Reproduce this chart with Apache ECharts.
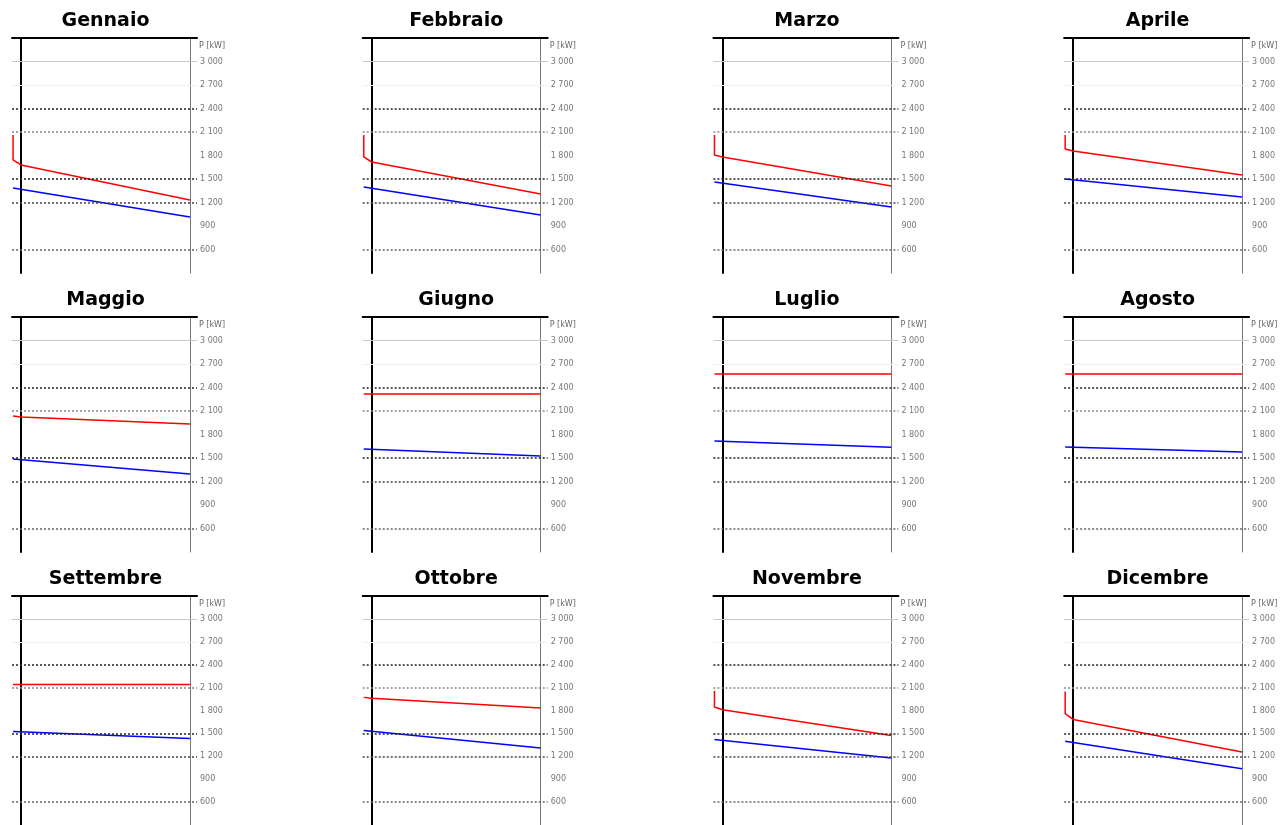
<!DOCTYPE html>
<html>
<head>
<meta charset="utf-8">
<title>Curve di durata mensili</title>
<script src="https://cdn.jsdelivr.net/npm/echarts@6/dist/echarts.min.js"></script>
<style>
html, body { margin: 0; padding: 0; background: #fff; }
#main { width: 1284px; height: 825px; }
</style>
</head>
<body>
<div id="main"></div>
<script>
// mesi (un pannello per mese)
var mesi = ['Gennaio', 'Febbraio', 'Marzo', 'Aprile', 'Maggio', 'Giugno',
            'Luglio', 'Agosto', 'Settembre', 'Ottobre', 'Novembre', 'Dicembre'];

// asse delle durate (% del tempo)
var durataRosso = [0, 0, 4.5, 100];
var durataBlu = [0, 100];

// curva rossa: [picco, fine picco, inizio, fine]
var rosso = [
    [2062, 1743, 1679, 1232],
    [2062, 1781, 1717, 1309],
    [2062, 1806, 1781, 1411],
    [2062, 1883, 1857, 1551],
    [2036, 2036, 2024, 1934],
    [2317, 2317, 2317, 2317],
    [2572, 2572, 2572, 2572],
    [2572, 2572, 2572, 2572],
    [2142, 2142, 2142, 2142],
    [1972, 1972, 1960, 1832],
    [2058, 1845, 1810, 1471],
    [2049, 1759, 1683, 1257]
];

// curva blu: [inizio, fine]
var blu = [
    [1385, 1015],
    [1398, 1040],
    [1462, 1143],
    [1500, 1270],
    [1487, 1296],
    [1615, 1526],
    [1717, 1636],
    [1640, 1577],
    [1526, 1432],
    [1538, 1309],
    [1420, 1177],
    [1398, 1037]
];

// asse valori
var yMin = 300, yMax = 3300, yPasso = 300;
var nomeAsse = 'P [kW]';

// linee di riferimento orizzontali
var soglie = [3000, 2700, 2400, 2100, 1500, 1200, 600];
var stiliSoglie = [
    { color: '#c8c8c8', width: 1, type: 'solid' },
    { color: '#f0f0f0', width: 1, type: 'solid' },
    { color: '#222', width: 1.5, type: [2, 2] },
    { color: '#888', width: 1.5, type: [2, 2] },
    { color: '#222', width: 1.5, type: [2, 2] },
    { color: '#444', width: 1.5, type: [2, 2] },
    { color: '#666', width: 1.5, type: [2, 2] }
];

var myChart = echarts.init(document.getElementById('main'));

var titoli = [], grids = [], xAxes = [], yAxes = [], series = [];

mesi.forEach(function (mese, g) {
    var c = g % 4, r = Math.floor(g / 4);
    var left = 12 + 350.7 * c;
    var top = 38 + 279 * r;

    titoli.push({
        text: mese,
        left: 100.5 + 350.7 * c,
        top: 7 + 279 * r,
        textAlign: 'center',
        textStyle: { fontFamily: 'DejaVu Sans', fontWeight: 'bold', fontSize: 19, color: '#000' }
    });

    grids.push({ left: left, top: top, width: 185, height: 235 });

    xAxes.push({
        gridIndex: g, type: 'value', position: 'top', min: -0.6, max: 104,
        axisLine: { show: true, onZero: false, lineStyle: { color: '#000', width: 2 } },
        axisTick: { show: false }, axisLabel: { show: false }, splitLine: { show: false }
    });

    // asse sinistro (solo linea)
    yAxes.push({
        gridIndex: g, type: 'value', position: 'left', offset: -9,
        min: yMin, max: yMax, interval: yPasso,
        axisLine: { show: true, lineStyle: { color: '#000', width: 2 } },
        axisTick: { show: false }, axisLabel: { show: false }, splitLine: { show: false }
    });

    // asse destro con etichette
    yAxes.push({
        gridIndex: g, type: 'value', position: 'right', offset: -7,
        min: yMin, max: yMax, interval: yPasso,
        name: nomeAsse, nameLocation: 'end', nameGap: -12,
        nameTextStyle: { align: 'left', fontFamily: 'DejaVu Sans', fontSize: 8, color: '#666', padding: [0, 0, 0, 9] },
        axisLine: { show: true, lineStyle: { color: '#777', width: 1 } },
        axisTick: { show: false },
        splitLine: { show: false },
        axisLabel: {
            show: true, margin: 10, fontFamily: 'DejaVu Sans', fontSize: 8, color: '#777',
            showMinLabel: false, showMaxLabel: false,
            formatter: function (v) {
                return String(v).replace(/\B(?=(\d{3})+(?!\d))/g, ' ');
            }
        }
    });

    // linee di riferimento
    series.push({
        type: 'line', xAxisIndex: g, yAxisIndex: 2 * g + 1, data: [], z: 1, silent: true,
        markLine: {
            silent: true, symbol: 'none', label: { show: false }, animation: false,
            data: soglie.map(function (v, k) {
                return { yAxis: v, lineStyle: stiliSoglie[k] };
            })
        }
    });

    series.push({
        type: 'line', xAxisIndex: g, yAxisIndex: 2 * g + 1, z: 3,
        symbol: 'none', silent: true,
        lineStyle: { color: '#ff0000', width: 1.5 },
        itemStyle: { color: '#ff0000' },
        data: durataRosso.map(function (x, i) { return [x, rosso[g][i]]; })
    });

    series.push({
        type: 'line', xAxisIndex: g, yAxisIndex: 2 * g + 1, z: 3,
        symbol: 'none', silent: true,
        lineStyle: { color: '#0000ff', width: 1.5 },
        itemStyle: { color: '#0000ff' },
        data: durataBlu.map(function (x, i) { return [x, blu[g][i]]; })
    });
});

option = {
    backgroundColor: '#fff',
    animation: false,
    title: titoli,
    grid: grids,
    xAxis: xAxes,
    yAxis: yAxes,
    series: series
};

myChart.setOption(option);
</script>
</body>
</html>
